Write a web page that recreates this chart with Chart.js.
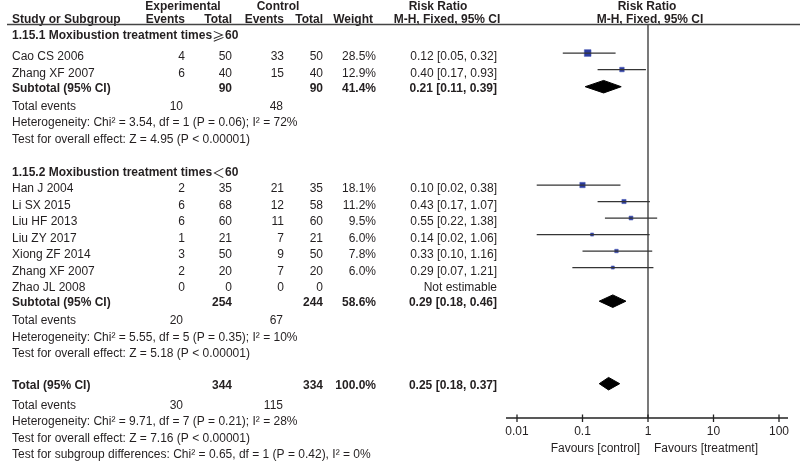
<!DOCTYPE html>
<html>
<head>
<meta charset="utf-8">
<script src="https://cdn.jsdelivr.net/npm/chart.js@4.4.1/dist/chart.umd.min.js"></script>
<style>
  body { margin: 0; background: #fff; }
  #wrap { width: 800px; height: 463px; position: relative; }
</style>
</head>
<body>
<div id="wrap"><canvas id="forest"></canvas></div>
<script>
// study level data
var studyNames = ['Cao CS 2006', 'Zhang XF 2007', 'Han J 2004', 'Li SX 2015', 'Liu HF 2013', 'Liu ZY 2017', 'Xiong ZF 2014', 'Zhang XF 2007', 'Zhao JL 2008'];
var studyGroup = [1, 1, 2, 2, 2, 2, 2, 2, 2];
var expEvents = [4, 6, 2, 6, 6, 1, 3, 2, 0];
var expTotal = [50, 40, 35, 68, 60, 21, 50, 20, 0];
var ctlEvents = [33, 15, 21, 12, 11, 7, 9, 7, 0];
var ctlTotal = [50, 40, 35, 58, 60, 21, 50, 20, 0];
var weights = [28.5, 12.9, 18.1, 11.2, 9.5, 6.0, 7.8, 6.0, null];
var riskRatio = [0.12, 0.40, 0.10, 0.43, 0.55, 0.14, 0.33, 0.29, null];
var ciLow = [0.05, 0.17, 0.02, 0.17, 0.22, 0.02, 0.10, 0.07, null];
var ciHigh = [0.32, 0.93, 0.38, 1.07, 1.38, 1.06, 1.16, 1.21, null];

// subgroup 1, subgroup 2, overall
var groupHeadings = ['1.15.1 Moxibustion treatment times\u2265' + '60', '1.15.2 Moxibustion treatment times\uFF1C60'];
var sumLabels = ['Subtotal (95% CI)', 'Subtotal (95% CI)', 'Total (95% CI)'];
var sumExpTotal = [90, 254, 344];
var sumCtlTotal = [90, 244, 334];
var sumWeight = [41.4, 58.6, 100.0];
var sumRR = [0.21, 0.29, 0.25];
var sumLow = [0.11, 0.18, 0.18];
var sumHigh = [0.39, 0.46, 0.37];
var sumExpEvents = [10, 20, 30];
var sumCtlEvents = [48, 67, 115];
var hetTexts = ['Heterogeneity: Chi\u00B2 = 3.54, df = 1 (P = 0.06); I\u00B2 = 72%',
                'Heterogeneity: Chi\u00B2 = 5.55, df = 5 (P = 0.35); I\u00B2 = 10%',
                'Heterogeneity: Chi\u00B2 = 9.71, df = 7 (P = 0.21); I\u00B2 = 28%'];
var effectTexts = ['Test for overall effect: Z = 4.95 (P < 0.00001)',
                   'Test for overall effect: Z = 5.18 (P < 0.00001)',
                   'Test for overall effect: Z = 7.16 (P < 0.00001)'];
var subgroupDiffText = 'Test for subgroup differences: Chi\u00B2 = 0.65, df = 1 (P = 0.42), I\u00B2 = 0%';

var tickValues = [0.01, 0.1, 1, 10, 100];
var tickLabels = ['0.01', '0.1', '1', '10', '100'];
var favourLeft = 'Favours [control]';
var favourRight = 'Favours [treatment]';

// ---- row layout (one row = one line of the table) ----
var layout = [];
var row = 0;
groupHeadings.forEach(function (h, g) {
  layout.push({ row: g === 0 ? -0.27 : row, kind: 'heading', g: g });
  row++;
  for (var i = 0; i < studyNames.length; i++) {
    if (studyGroup[i] === g + 1) { layout.push({ row: row, kind: 'study', i: i }); row++; }
  }
  layout.push({ row: row, kind: 'summary', s: g }); row++;
  layout.push({ row: row, kind: 'events', s: g }); row++;
  layout.push({ row: row, kind: 'het', s: g }); row++;
  layout.push({ row: row, kind: 'effect', s: g }); row++;
  row++;
});
layout.push({ row: row, kind: 'summary', s: 2 }); row += 1.12;
layout.push({ row: row, kind: 'events', s: 2 }); row++;
layout.push({ row: row, kind: 'het', s: 2 }); row++;
layout.push({ row: row, kind: 'effect', s: 2 }); row++;
layout.push({ row: row, kind: 'subgroup' });

var Y_MIN = -1, Y_MAX = 22.88;
var studyOff = -0.24, diamondOff = -0.2, diamondHalf = 0.38, sumTextOff = -0.08;

function fmtRR(v, lo, hi) { return v.toFixed(2) + ' [' + lo.toFixed(2) + ', ' + hi.toFixed(2) + ']'; }

// ---- datasets ----
var datasets = [];
var squares = [], squareSizes = [];
layout.forEach(function (L) {
  if (L.kind === 'study' && riskRatio[L.i] != null) {
    var i = L.i, y = L.row + studyOff;
    datasets.push({ type: 'line', data: [{ x: ciLow[i], y: y }, { x: ciHigh[i], y: y }],
      borderColor: '#353535', borderWidth: 1.3, pointRadius: 0, fill: false });
    squares.push({ x: riskRatio[i], y: y });
    squareSizes.push(1.25 * Math.sqrt(weights[i]) / Math.SQRT2);
  }
  if (L.kind === 'summary') {
    var s = L.s, yd = L.row + diamondOff;
    datasets.push({ type: 'line',
      data: [{ x: sumLow[s], y: yd }, { x: sumRR[s], y: yd - diamondHalf }, { x: sumHigh[s], y: yd },
             { x: sumRR[s], y: yd + diamondHalf }, { x: sumLow[s], y: yd }],
      borderColor: '#000', borderWidth: 1, backgroundColor: '#000', pointRadius: 0, fill: 'shape', tension: 0 });
  }
});
datasets.push({ type: 'scatter', data: squares, pointStyle: 'rect', pointRadius: squareSizes,
  backgroundColor: '#2b3a9f', borderColor: '#4a5ab5', borderWidth: 0.6 });
// line of no effect
datasets.push({ type: 'line', data: [{ x: 1, y: Y_MIN }, { x: 1, y: Y_MAX }],
  borderColor: '#333333', borderWidth: 1.3, pointRadius: 0, fill: false });

// ---- table text + axis drawn on top ----
var FONT = '"Liberation Sans", Arial, sans-serif';
var CJK = '"Noto Sans CJK SC", "DejaVu Sans", sans-serif';
var INK = '#231f20';
var COL = { name: 12, expEv: 185, expTot: 232, ctlEv: 284, ctlTot: 323, weight: 376, rr: 497 };

var tablePlugin = {
  id: 'table',
  afterDraw: function (chart) {
    var ctx = chart.ctx, ys = chart.scales.y, xs = chart.scales.x;
    var py = function (r) { return ys.getPixelForValue(r); };
    function txt(s, x, y, align, bold) {
      ctx.font = (bold ? 'bold ' : '') + '12px ' + FONT;
      ctx.textAlign = align || 'left';
      ctx.textBaseline = 'middle';
      ctx.fillStyle = INK;
      ctx.fillText(s, x, y);
    }
    // left aligned text where symbols use the CJK font (normal weight)
    function runs(s, x, y, bold) {
      ctx.textAlign = 'left';
      ctx.textBaseline = 'middle';
      ctx.fillStyle = INK;
      var parts = s.match(/[\x00-\x7F]+|[^\x00-\x7F]+/g);
      parts.forEach(function (p) {
        ctx.font = /[^\x00-\x7F]/.test(p) ? '13px ' + CJK : (bold ? 'bold ' : '') + '12px ' + FONT;
        ctx.fillText(p, x, y);
        x += ctx.measureText(p).width;
      });
    }
    ctx.save();
    // header
    txt('Experimental', 183, 6.5, 'center', true);
    txt('Control', 278, 6.5, 'center', true);
    txt('Risk Ratio', 438, 6.5, 'center', true);
    txt('Risk Ratio', 647, 6.5, 'center', true);
    txt('Study or Subgroup', COL.name, 19.5, 'left', true);
    txt('Events', COL.expEv, 19.5, 'right', true);
    txt('Total', COL.expTot, 19.5, 'right', true);
    txt('Events', COL.ctlEv, 19.5, 'right', true);
    txt('Total', COL.ctlTot, 19.5, 'right', true);
    txt('Weight', COL.weight - 3, 19.5, 'right', true);
    txt('M-H, Fixed, 95% CI', 447, 19.5, 'center', true);
    txt('M-H, Fixed, 95% CI', 650, 19.5, 'center', true);
    ctx.strokeStyle = '#444';
    ctx.lineWidth = 1.5;
    ctx.beginPath(); ctx.moveTo(7, 24.5); ctx.lineTo(800, 24.5); ctx.stroke();

    layout.forEach(function (L) {
      var y = py(L.row);
      if (L.kind === 'heading') runs(groupHeadings[L.g], COL.name, y, true);
      if (L.kind === 'study') {
        var i = L.i;
        txt(studyNames[i], COL.name, y);
        txt(String(expEvents[i]), COL.expEv, y, 'right');
        txt(String(expTotal[i]), COL.expTot, y, 'right');
        txt(String(ctlEvents[i]), COL.ctlEv, y, 'right');
        txt(String(ctlTotal[i]), COL.ctlTot, y, 'right');
        if (weights[i] != null) txt(weights[i].toFixed(1) + '%', COL.weight, y, 'right');
        txt(riskRatio[i] != null ? fmtRR(riskRatio[i], ciLow[i], ciHigh[i]) : 'Not estimable', COL.rr, y, 'right');
      }
      if (L.kind === 'summary') {
        var s = L.s, ys2 = py(L.row + sumTextOff);
        txt(sumLabels[s], COL.name, ys2, 'left', true);
        txt(String(sumExpTotal[s]), COL.expTot, ys2, 'right', true);
        txt(String(sumCtlTotal[s]), COL.ctlTot, ys2, 'right', true);
        txt(sumWeight[s].toFixed(1) + '%', COL.weight, ys2, 'right', true);
        txt(fmtRR(sumRR[s], sumLow[s], sumHigh[s]), COL.rr, ys2, 'right', true);
      }
      if (L.kind === 'events') {
        txt('Total events', COL.name, y);
        txt(String(sumExpEvents[L.s]), COL.expEv - 2, y, 'right');
        txt(String(sumCtlEvents[L.s]), COL.ctlEv - 1, y, 'right');
      }
      if (L.kind === 'het') txt(hetTexts[L.s], COL.name, y);
      if (L.kind === 'effect') txt(effectTexts[L.s], COL.name, y);
      if (L.kind === 'subgroup') txt(subgroupDiffText, COL.name, y);
    });

    // x axis
    var axisY = chart.chartArea.bottom;
    ctx.strokeStyle = '#222';
    ctx.lineWidth = 1.3;
    ctx.beginPath();
    ctx.moveTo(xs.getPixelForValue(tickValues[0]) - 11, axisY);
    ctx.lineTo(xs.getPixelForValue(tickValues[tickValues.length - 1]) + 9, axisY);
    ctx.stroke();
    tickValues.forEach(function (v, k) {
      var x = xs.getPixelForValue(v);
      ctx.beginPath(); ctx.moveTo(x, axisY - 3.5); ctx.lineTo(x, axisY + 4); ctx.stroke();
      txt(tickLabels[k], x, axisY + 13.5, 'center');
    });
    var x1 = xs.getPixelForValue(1);
    txt(favourLeft, x1 - 8, axisY + 31, 'right');
    txt(favourRight, x1 + 6, axisY + 31, 'left');
    ctx.restore();
  }
};

new Chart(document.getElementById('forest').getContext('2d'), {
  type: 'scatter',
  data: { datasets: datasets },
  options: {
    responsive: true,
    maintainAspectRatio: false,
    animation: false,
    layout: { padding: { left: 517, right: 21, top: 24, bottom: 45 } },
    plugins: { legend: { display: false }, tooltip: { enabled: false } },
    scales: {
      x: { type: 'logarithmic', min: 0.01, max: 100, display: false },
      y: { type: 'linear', min: Y_MIN, max: Y_MAX, reverse: true, display: false }
    }
  },
  plugins: [tablePlugin]
});
</script>
</body>
</html>
